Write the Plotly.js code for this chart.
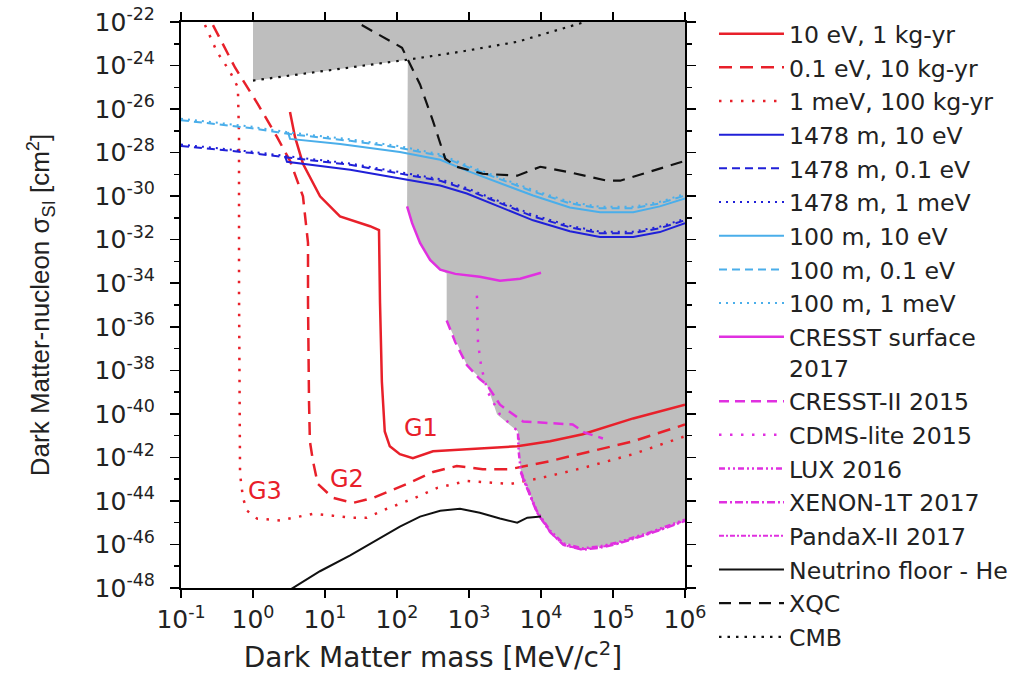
<!DOCTYPE html>
<html>
<head>
<meta charset="utf-8">
<script src="https://cdn.plot.ly/plotly-3.0.1.min.js"></script>
<style>html,body{margin:0;padding:0;background:#fff;}#plot{width:1030px;height:676px;}</style>
</head>
<body>
<div id="plot"></div>
<script>
// All values are log10 of mass [MeV/c^2] (lm) and log10 of cross section [cm^2] (ls).
const g1LogM = [0.514, 0.583, 0.694, 0.931, 1.208, 1.625, 1.75, 1.764, 1.79, 1.83, 1.90, 2.04, 2.22, 2.50, 2.97, 3.67, 4.125, 4.58, 5.28, 6.0];
const g1LogS = [-26.14, -27.28, -28.51, -30.01, -30.93, -31.38, -31.56, -34.89, -38.53, -40.81, -41.49, -41.85, -42.04, -41.72, -41.63, -41.49, -41.26, -40.94, -40.21, -39.58];

const g2LogM = [-0.556, -0.25, 0.069, 0.333, 0.514, 0.694, 0.764, 0.764, 0.778, 0.79, 0.833, 0.90, 1.11, 1.39, 1.67, 2.14, 2.50, 2.83, 3.19, 3.57, 4.125, 4.58, 5.28, 6.0];
const g2LogS = [-22.14, -24.09, -25.78, -27.28, -28.38, -30.01, -32.15, -34.89, -39.44, -41.26, -42.17, -43.22, -43.86, -44.09, -43.86, -43.22, -42.67, -42.40, -42.54, -42.54, -42.17, -41.81, -41.26, -40.49];

const g3LogM = [-0.667, -0.5, -0.32, -0.21, -0.194, -0.194, -0.18, -0.139, -0.083, 0.056, 0.375, 0.833, 1.11, 1.35, 1.58, 1.86, 2.22, 2.56, 2.97, 3.57, 3.99, 4.58, 5.28, 6.0];
const g3LogS = [-22.14, -23.37, -24.28, -25.0, -27.28, -34.43, -42.77, -43.86, -44.45, -44.81, -44.9, -44.59, -44.68, -44.77, -44.77, -44.36, -43.9, -43.40, -43.08, -43.22, -42.95, -42.49, -41.85, -41.03];

const deep10LogM = [0.444, 0.472, 1.35, 2.60, 2.97, 3.89, 4.40, 4.82, 5.28, 5.65, 6.0];
const deep10LogS = [-28.15, -28.42, -28.79, -29.51, -29.88, -31.11, -31.61, -31.88, -31.88, -31.65, -31.24];
const deepLowLogM = [-1.0, -0.04, 0.514, 1.35, 2.60, 2.97, 3.89, 4.40, 4.82, 5.28, 5.65, 6.0];
const deep01LogS = [-27.69, -28.01, -28.24, -28.56, -29.29, -29.70, -30.93, -31.43, -31.70, -31.70, -31.47, -31.11];
const deep1mLogS = [-27.63, -27.95, -28.18, -28.50, -29.22, -29.63, -30.86, -31.36, -31.63, -31.63, -31.40, -31.04];

const shallow10LogM = [0.486, 0.514, 1.21, 2.04, 2.60, 2.97, 3.89, 4.40, 4.82, 5.28, 5.65, 6.0];
const shallow10LogS = [-27.05, -27.37, -27.60, -27.97, -28.33, -28.83, -29.97, -30.52, -30.74, -30.74, -30.47, -30.11];
const shallowLowLogM = [-1.0, -0.04, 0.514, 1.35, 2.04, 2.60, 2.97, 3.89, 4.40, 4.82, 5.28, 5.65, 6.0];
const shallow01LogS = [-26.51, -26.87, -27.15, -27.46, -27.78, -28.15, -28.65, -29.79, -30.33, -30.56, -30.56, -30.33, -29.97];
const shallow1mLogS = [-26.44, -26.80, -27.08, -27.39, -27.71, -28.08, -28.58, -29.72, -30.26, -30.49, -30.49, -30.26, -29.90];

const cresstSurfLogM = [2.14, 2.21, 2.32, 2.46, 2.60, 2.81, 3.15, 3.43, 3.71, 4.0];
const cresstSurfLogS = [-30.47, -31.24, -32.15, -32.93, -33.38, -33.57, -33.70, -33.89, -33.79, -33.52];

const cresst2LogM = [2.69, 2.81, 2.97, 3.15, 3.25, 3.43, 3.75, 4.17, 4.44, 4.60, 4.86];
const cresst2LogS = [-35.71, -36.71, -37.76, -38.40, -38.67, -39.58, -40.35, -40.44, -40.49, -40.85, -41.13];

const cdmsLogM = [3.11, 3.125, 3.17, 3.26, 3.43, 3.68, 3.70];
const cdmsLogS = [-34.57, -36.71, -37.85, -38.99, -40.03, -40.81, -41.50];

const luxLogM = [3.68, 3.69, 3.72, 3.81, 3.94, 4.125, 4.31, 4.57, 4.82, 5.06, 5.51, 6.0];
const luxLogS = [-40.90, -41.72, -42.63, -43.40, -44.45, -45.36, -45.95, -46.18, -46.09, -45.91, -45.45, -44.86];
const xenonLogM = [3.72, 3.81, 3.94, 4.125, 4.31, 4.57, 4.82, 5.06, 5.51, 6.0];
const xenonLogS = [-42.70, -43.46, -44.50, -45.42, -46.01, -46.24, -46.15, -45.97, -45.50, -44.92];
const pandaLogM = [3.74, 3.83, 3.96, 4.14, 4.32, 4.58, 4.83, 5.07, 5.52, 6.0];
const pandaLogS = [-42.90, -43.60, -44.62, -45.48, -46.04, -46.22, -46.12, -45.94, -45.48, -44.90];

const nuLogM = [0.48, 0.93, 1.35, 1.76, 2.04, 2.32, 2.60, 2.875, 3.15, 3.43, 3.67, 3.81, 4.0];
const nuLogS = [-48.15, -47.23, -46.50, -45.73, -45.18, -44.72, -44.45, -44.36, -44.54, -44.81, -45.0, -44.77, -44.72];

const xqcLogM = [1.51, 1.76, 2.07, 2.15, 2.32, 2.50, 2.67, 2.83, 3.19, 3.67, 3.99, 4.36, 4.92, 5.10, 5.56, 6.0];
const xqcLogS = [-22.14, -22.59, -23.18, -23.73, -24.87, -26.55, -28.28, -28.65, -28.97, -29.06, -28.65, -28.88, -29.29, -29.29, -28.83, -28.38];

const cmbLogM = [0.0, 2.15, 2.875, 3.67, 4.61];
const cmbLogS = [-24.69, -23.73, -23.37, -22.91, -22.0];

// Excluded (shaded) region boundary
const excludedLogM = [0, 0, 2.15, 2.14, 2.21, 2.32, 2.46, 2.60, 2.69, 2.69, 2.97, 3.25, 3.39, 3.68, 3.69, 3.72, 3.81, 3.94, 4.125, 4.31, 4.57, 4.82, 5.06, 5.51, 6.0, 6.0];
const excludedLogS = [-22, -24.69, -23.73, -30.47, -31.24, -32.15, -32.93, -33.38, -33.55, -35.71, -37.76, -38.67, -40.03, -40.81, -41.72, -42.63, -43.40, -44.45, -45.36, -45.95, -46.18, -46.09, -45.91, -45.45, -44.86, -22];

const xTickExp = [-1, 0, 1, 2, 3, 4, 5, 6];
const yTickExp = [-48, -46, -44, -42, -40, -38, -36, -34, -32, -30, -28, -26, -24, -22];
const yMinorExp = [-47, -45, -43, -41, -39, -37, -35, -33, -31, -29, -27, -25, -23];

const p10 = a => a.map(v => Math.pow(10, v));

const RED = '#e8202a', BLUE = '#2020d8', LBLUE = '#4aaeea', MAG = '#e030e0', BLK = '#111111';

function tr(name, lm, ls, color, width, dash) {
  return {type: 'scatter', mode: 'lines', name: name, x: p10(lm), y: p10(ls),
          line: {color: color, width: width, dash: dash}, hoverinfo: 'skip'};
}

const traces = [
  {type: 'scatter', mode: 'lines', x: p10(excludedLogM), y: p10(excludedLogS), fill: 'toself',
   fillcolor: '#bebebe', line: {width: 0, color: '#bebebe'}, showlegend: false, hoverinfo: 'skip'},
  tr('10 eV, 1 kg-yr', g1LogM, g1LogS, RED, 2.5, 'solid'),
  tr('0.1 eV, 10 kg-yr', g2LogM, g2LogS, RED, 2.5, '13px,8px'),
  tr('1 meV, 100 kg-yr', g3LogM, g3LogS, RED, 2.5, '2.5px,8.5px'),
  tr('1478 m, 10 eV', deep10LogM, deep10LogS, BLUE, 2, 'solid'),
  tr('1478 m, 0.1 eV', deepLowLogM, deep01LogS, BLUE, 2, '8px,5px'),
  tr('1478 m, 1 meV', deepLowLogM, deep1mLogS, BLUE, 2, '2px,5px'),
  tr('100 m, 10 eV', shallow10LogM, shallow10LogS, LBLUE, 2, 'solid'),
  tr('100 m, 0.1 eV', shallowLowLogM, shallow01LogS, LBLUE, 2, '8px,5px'),
  tr('100 m, 1 meV', shallowLowLogM, shallow1mLogS, LBLUE, 2, '2px,5px'),
  tr('CRESST surface<br>2017', cresstSurfLogM, cresstSurfLogS, MAG, 2.5, 'solid'),
  tr('CRESST-II 2015', cresst2LogM, cresst2LogS, MAG, 2.5, '10px,6px'),
  tr('CDMS-lite 2015', cdmsLogM, cdmsLogS, MAG, 2.5, '2.5px,8.5px'),
  tr('LUX 2016', luxLogM, luxLogS, MAG, 2.5, '6px,3px,2px,3px,2px,3px'),
  tr('XENON-1T 2017', xenonLogM, xenonLogS, MAG, 2.5, '8px,3px,2px,3px'),
  tr('PandaX-II 2017', pandaLogM, pandaLogS, MAG, 2, '5px,2px,2px,2px'),
  tr('Neutrino floor - He', nuLogM, nuLogS, BLK, 2, 'solid'),
  tr('XQC', xqcLogM, xqcLogS, BLK, 2.2, '12px,8px'),
  tr('CMB', cmbLogM, cmbLogS, BLK, 2.2, '2.5px,6px')
];

const supText = e => '10<sup>' + e + '</sup>';

const layout = {
  width: 1030, height: 676,
  margin: {l: 181, r: 345, t: 17, b: 88, pad: 0},
  paper_bgcolor: '#ffffff', plot_bgcolor: '#ffffff',
  showlegend: true,
  legend: {x: 1.0575, xanchor: 'left', y: 1.018, yanchor: 'top', itemwidth: 65, valign: 'top',
           bgcolor: 'rgba(255,255,255,0)', font: {family: 'DejaVu Sans', size: 23.6, color: '#222222'},
           tracegroupgap: 0, maxheight: 670},
  xaxis: {type: 'log', range: [-1, 6], tickmode: 'array', tickvals: p10(xTickExp), ticktext: xTickExp.map(supText),
          ticks: 'outside', ticklen: 8, tickwidth: 1.5, tickcolor: '#000', showline: true, linewidth: 2, linecolor: '#000',
          mirror: 'ticks', showgrid: false, zeroline: false, automargin: false,
          tickfont: {family: 'DejaVu Sans', size: 25, color: '#222'},
          title: {text: 'Dark Matter mass [MeV/c<sup>2</sup>]', font: {family: 'DejaVu Sans', size: 28, color: '#222'}, standoff: 14}},
  yaxis: {type: 'log', range: [-48, -22], tickmode: 'array', tickvals: p10(yTickExp), ticktext: yTickExp.map(supText),
          ticks: 'outside', ticklen: 9, tickwidth: 1.5, tickcolor: '#000', showline: true, linewidth: 2, linecolor: '#000',
          mirror: 'ticks', showgrid: false, zeroline: false, automargin: false,
          minor: {tickmode: 'array', tickvals: p10(yMinorExp), ticks: 'outside', ticklen: 5, tickwidth: 1.5, tickcolor: '#000', showgrid: false},
          tickfont: {family: 'DejaVu Sans', size: 25, color: '#222'}, ticklabelstandoff: 10,
          title: {text: 'Dark Matter-nucleon σ<sub>SI</sub> [cm<sup>2</sup>]', font: {family: 'Liberation Sans', size: 26, color: '#222'}, standoff: 37}},
  annotations: [
    {x: 2.333, y: -40.67, xref: 'x', yref: 'y', text: 'G1', showarrow: false, font: {family: 'DejaVu Sans', size: 24, color: RED}},
    {x: 1.306, y: -42.99, xref: 'x', yref: 'y', text: 'G2', showarrow: false, font: {family: 'DejaVu Sans', size: 24, color: RED}},
    {x: 0.167, y: -43.54, xref: 'x', yref: 'y', text: 'G3', showarrow: false, font: {family: 'DejaVu Sans', size: 24, color: RED}}
  ]
};

Plotly.newPlot('plot', traces, layout, {staticPlot: true, displayModeBar: false});
</script>
</body>
</html>
